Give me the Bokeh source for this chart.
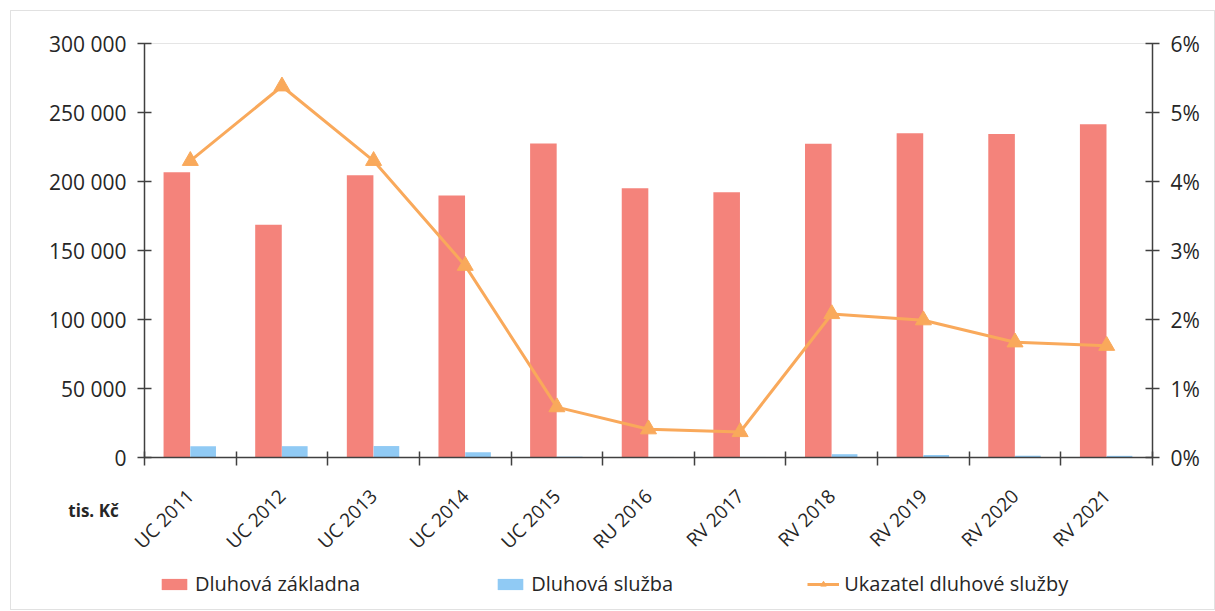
from bokeh.plotting import figure
from bokeh.models import (ColumnDataSource, Range1d, LinearAxis, FixedTicker,
                          Legend, LegendItem, Label, BoxAnnotation)
from bokeh.transform import dodge
from bokeh.embed import file_html
from bokeh.resources import INLINE

# --- data (tis. Kč / %) ---
categories = ["UC 2011", "UC 2012", "UC 2013", "UC 2014", "UC 2015", "RU 2016",
              "RV 2017", "RV 2018", "RV 2019", "RV 2020", "RV 2021"]
dluhova_zakladna = [206700, 168600, 204500, 189800, 227600, 195100,
                    192200, 227400, 234900, 234400, 241400]
dluhova_sluzba = [8200, 8200, 8300, 3800, 600, 400, 400, 2400, 1800, 1300, 1200]
ukazatel = [4.30, 5.38, 4.30, 2.78, 0.73, 0.41, 0.37, 2.08, 1.99, 1.67, 1.62]

left_ticks = [0, 50000, 100000, 150000, 200000, 250000, 300000]
left_tick_labels = ["0", "50 000", "100 000", "150 000", "200 000", "250 000", "300 000"]
right_ticks = [0, 1, 2, 3, 4, 5, 6]
right_tick_labels = ["0%", "1%", "2%", "3%", "4%", "5%", "6%"]

RED = "#F4837B"
BLUE = "#90CAF4"
ORANGE = "#F9A95B"
TEXT = "#262626"
AXIS = "#404040"
FONT = "Open Sans"

# --- page layout in pixels: the plot frame spans the whole canvas and the
# axes are pinned inside it, so that the legend and unit label can sit
# below the category labels ---
W, H = 1215, 611
AX_LEFT, AX_RIGHT, AX_TOP, AX_ZERO = 144, 1152, 43, 457

n = len(categories)
ux = (AX_RIGHT - AX_LEFT) / n                       # px per category
uy = (AX_ZERO - AX_TOP) / left_ticks[-1]            # px per tis. Kč
up = (AX_ZERO - AX_TOP) / right_ticks[-1]           # px per percent

x_range = Range1d(-AX_LEFT / ux, n + (W - AX_RIGHT) / ux)
y_range = Range1d(-(H - AX_ZERO) / uy, left_ticks[-1] + AX_TOP / uy)
pct_range = Range1d(-(H - AX_ZERO) / up, right_ticks[-1] + AX_TOP / up)


def px_x(px):
    return x_range.start + px / ux


def px_y(py):
    return y_range.end - py / uy


pos = [i + 0.5 for i in range(n)]
source = ColumnDataSource(dict(pos=pos, cat=categories, zakladna=dluhova_zakladna,
                               sluzba=dluhova_sluzba, ukazatel=ukazatel))

p = figure(width=W, height=H, output_backend="svg", toolbar_location=None,
           x_range=x_range, y_range=y_range, min_border=0,
           x_axis_location=None, y_axis_location=None,
           background_fill_color="white", border_fill_color="white")
p.extra_y_ranges = {"pct": pct_range}
p.grid.visible = False
p.outline_line_color = None

# chart area border
p.add_layout(BoxAnnotation(left=px_x(10), right=px_x(1214), top=px_y(10),
                           bottom=px_y(609), fill_alpha=0, line_color="#9a9a9a",
                           line_width=1, level="underlay"))

# plot area edge (its top side is the only one not covered by an axis)
p.add_layout(BoxAnnotation(left=0, right=n, bottom=left_ticks[0], top=left_ticks[-1],
                           fill_alpha=0, line_color="#a8a8a8", line_width=1,
                           level="underlay"))

# bars
r_zak = p.vbar(x=dodge("pos", -0.147, range=p.x_range), top="zakladna", width=0.29,
               source=source, fill_color=RED, line_color=None)
r_slu = p.vbar(x=dodge("pos", 0.14, range=p.x_range), top="sluzba", width=0.28,
               source=source, fill_color=BLUE, line_color=None)

# indicator line on the secondary axis
r_line = p.line(x="pos", y="ukazatel", source=source, y_range_name="pct",
                line_color=ORANGE, line_width=3)
r_mark = p.scatter(x="pos", y="ukazatel", source=source, y_range_name="pct",
                   marker="triangle", size=16, fill_color=ORANGE, line_color=ORANGE)

# x axis: category boundaries as (minor) ticks, labels at centres
xa = LinearAxis(fixed_location=0, bounds=(0, n),
                ticker=FixedTicker(ticks=pos, minor_ticks=list(range(n + 1))))
xa.major_label_overrides = {x: c for x, c in zip(pos, categories)}
xa.major_tick_line_color = None
xa.minor_tick_in = 6
xa.minor_tick_out = 8
xa.minor_tick_line_color = AXIS
xa.minor_tick_line_width = 1.5
xa.axis_line_color = AXIS
xa.axis_line_width = 1.5
xa.major_label_orientation = 0.785398
xa.major_label_standoff = 27
xa.major_label_text_font = FONT
xa.major_label_text_font_size = "19px"
xa.major_label_text_color = TEXT
p.add_layout(xa, "below")

# left axis (tis. Kč)
ya = LinearAxis(fixed_location=0, bounds=(left_ticks[0], left_ticks[-1]),
                ticker=FixedTicker(ticks=left_ticks))
ya.major_label_overrides = {t: s for t, s in zip(left_ticks, left_tick_labels)}
ya.minor_tick_line_color = None
ya.major_tick_in = 7
ya.major_tick_out = 7
ya.major_tick_line_color = AXIS
ya.major_tick_line_width = 1.5
ya.axis_line_color = AXIS
ya.axis_line_width = 1.5
ya.major_label_standoff = 11
ya.major_label_text_font = FONT
ya.major_label_text_font_size = "21px"
ya.major_label_text_color = TEXT
p.add_layout(ya, "left")

# right axis (%)
ra = LinearAxis(y_range_name="pct", fixed_location=n,
                bounds=(right_ticks[0], right_ticks[-1]),
                ticker=FixedTicker(ticks=right_ticks))
ra.major_label_overrides = {t: s for t, s in zip(right_ticks, right_tick_labels)}
ra.minor_tick_line_color = None
ra.major_tick_in = 7
ra.major_tick_out = 7
ra.major_tick_line_color = AXIS
ra.major_tick_line_width = 1.5
ra.axis_line_color = AXIS
ra.axis_line_width = 1.5
ra.major_label_standoff = 11
ra.major_label_text_font = FONT
ra.major_label_text_font_size = "21px"
ra.major_label_text_color = TEXT
p.add_layout(ra, "right")

# unit label
p.add_layout(Label(x=px_x(93), y=px_y(510), text="tis. Kč", text_font=FONT,
                   text_font_size="17px", text_font_style="bold", text_color=TEXT,
                   text_align="center", text_baseline="middle"))

legend = Legend(items=[LegendItem(label="Dluhová základna", renderers=[r_zak]),
                       LegendItem(label="Dluhová služba", renderers=[r_slu]),
                       LegendItem(label="Ukazatel dluhové služby",
                                  renderers=[r_line, r_mark])],
                orientation="horizontal", location=(158, 14), spacing=134,
                glyph_width=32, glyph_height=14, label_standoff=5,
                label_text_font=FONT, label_text_font_size="20px",
                label_text_color=TEXT, border_line_color=None,
                background_fill_alpha=0, padding=0, margin=0)
p.add_layout(legend, "center")

open("out.html", "w").write(file_html(p, INLINE))
